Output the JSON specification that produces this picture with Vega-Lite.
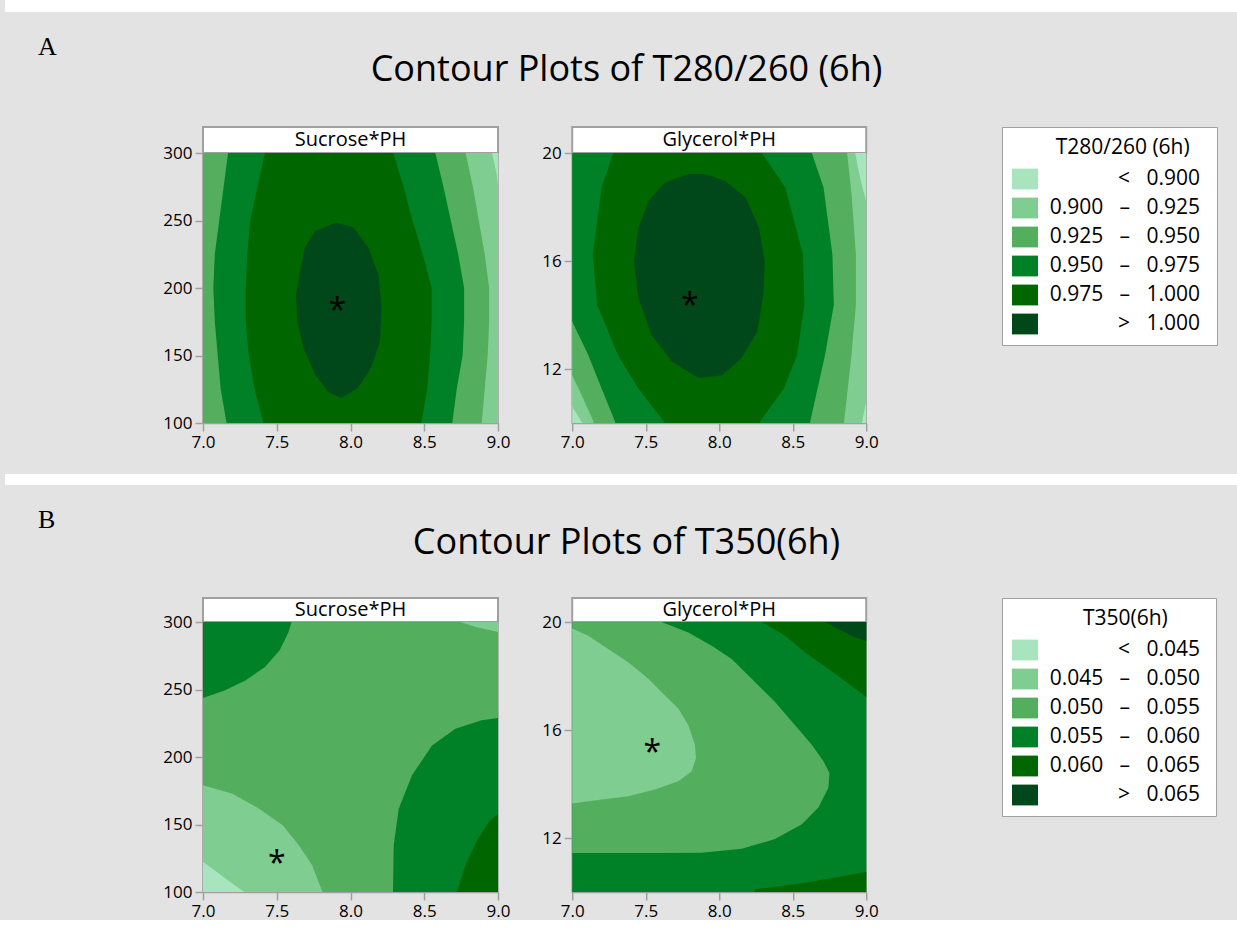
{
  "$schema": "https://vega.github.io/schema/vega-lite/v6.json",
  "background": "#e3e3e3",
  "padding": {"left": 5, "top": 0, "right": 0, "bottom": 0},
  "config": {
    "font": "Open Sans",
    "view": {"stroke": "#a0a0a0", "strokeWidth": 1.5},
    "axis": {"domainColor": "#a0a0a0", "domainWidth": 1.5, "tickColor": "#a0a0a0", "tickWidth": 1.5, "tickSize": 8, "labelFont": "Open Sans", "labelFontSize": 17, "labelColor": "black", "labelPadding": 3, "grid": false, "labelFlush": false, "labelOverlap": false},
    "title": {"color": "black", "fontWeight": "normal"},
    "legend": {"orient": "none", "legendX": 799, "legendY": 0, "direction": "vertical", "padding": 10, "strokeColor": "#a0a0a0", "fillColor": "white", "titleFont": "Open Sans", "titleFontSize": 21, "titleFontWeight": "normal", "titleColor": "black", "titleAnchor": "start", "titleAlign": "left", "titlePadding": 8, "labelFont": "Open Sans", "labelFontSize": 21, "labelColor": "black", "labelAlign": "right", "labelOffset": 162, "labelLimit": 300, "symbolType": "M-1,-0.8L1,-0.8L1,0.8L-1,0.8Z", "symbolSize": 676, "symbolStrokeWidth": 0, "symbolOpacity": 1, "rowPadding": 5.0, "titleLimit": 400}
  },
  "datasets": {
    "a1": [
      {"p":0,"k":"< 0.900","x":6.8,"y":80},{"p":0,"k":"< 0.900","x":9.2,"y":80},{"p":0,"k":"< 0.900","x":9.2,"y":320},{"p":0,"k":"< 0.900","x":6.8,"y":320},
      {"p":1,"k":"0.900 – 0.925","x":6.8,"y":320},{"p":1,"k":"0.900 – 0.925","x":8.93,"y":320},{"p":1,"k":"0.900 – 0.925","x":8.96,"y":300},{"p":1,"k":"0.900 – 0.925","x":8.99,"y":285},{"p":1,"k":"0.900 – 0.925","x":9.0,"y":277},{"p":1,"k":"0.900 – 0.925","x":9.05,"y":260},{"p":1,"k":"0.900 – 0.925","x":9.2,"y":250},{"p":1,"k":"0.900 – 0.925","x":9.2,"y":80},{"p":1,"k":"0.900 – 0.925","x":6.8,"y":80},
      {"p":2,"k":"0.925 – 0.950","x":6.8,"y":320},{"p":2,"k":"0.925 – 0.950","x":8.75,"y":320},{"p":2,"k":"0.925 – 0.950","x":8.78,"y":300},{"p":2,"k":"0.925 – 0.950","x":8.83,"y":275},{"p":2,"k":"0.925 – 0.950","x":8.87,"y":250},{"p":2,"k":"0.925 – 0.950","x":8.91,"y":225},{"p":2,"k":"0.925 – 0.950","x":8.94,"y":200},{"p":2,"k":"0.925 – 0.950","x":8.94,"y":175},{"p":2,"k":"0.925 – 0.950","x":8.93,"y":150},{"p":2,"k":"0.925 – 0.950","x":8.91,"y":125},{"p":2,"k":"0.925 – 0.950","x":8.89,"y":100},{"p":2,"k":"0.925 – 0.950","x":8.87,"y":80},{"p":2,"k":"0.925 – 0.950","x":6.8,"y":80},
      {"p":3,"k":"0.950 – 0.975","x":7.2,"y":320},{"p":3,"k":"0.950 – 0.975","x":7.17,"y":300},{"p":3,"k":"0.950 – 0.975","x":7.14,"y":275},{"p":3,"k":"0.950 – 0.975","x":7.11,"y":250},{"p":3,"k":"0.950 – 0.975","x":7.08,"y":225},{"p":3,"k":"0.950 – 0.975","x":7.07,"y":200},{"p":3,"k":"0.950 – 0.975","x":7.08,"y":175},{"p":3,"k":"0.950 – 0.975","x":7.10,"y":150},{"p":3,"k":"0.950 – 0.975","x":7.12,"y":125},{"p":3,"k":"0.950 – 0.975","x":7.16,"y":100},{"p":3,"k":"0.950 – 0.975","x":7.19,"y":80},{"p":3,"k":"0.950 – 0.975","x":8.66,"y":80},{"p":3,"k":"0.950 – 0.975","x":8.69,"y":100},{"p":3,"k":"0.950 – 0.975","x":8.72,"y":125},{"p":3,"k":"0.950 – 0.975","x":8.76,"y":150},{"p":3,"k":"0.950 – 0.975","x":8.77,"y":175},{"p":3,"k":"0.950 – 0.975","x":8.77,"y":200},{"p":3,"k":"0.950 – 0.975","x":8.73,"y":225},{"p":3,"k":"0.950 – 0.975","x":8.68,"y":250},{"p":3,"k":"0.950 – 0.975","x":8.63,"y":275},{"p":3,"k":"0.950 – 0.975","x":8.575,"y":300},{"p":3,"k":"0.950 – 0.975","x":8.54,"y":320},
      {"p":4,"k":"0.975 – 1.000","x":7.47,"y":320},{"p":4,"k":"0.975 – 1.000","x":7.42,"y":300},{"p":4,"k":"0.975 – 1.000","x":7.37,"y":275},{"p":4,"k":"0.975 – 1.000","x":7.32,"y":250},{"p":4,"k":"0.975 – 1.000","x":7.30,"y":225},{"p":4,"k":"0.975 – 1.000","x":7.29,"y":200},{"p":4,"k":"0.975 – 1.000","x":7.29,"y":175},{"p":4,"k":"0.975 – 1.000","x":7.31,"y":150},{"p":4,"k":"0.975 – 1.000","x":7.35,"y":125},{"p":4,"k":"0.975 – 1.000","x":7.41,"y":100},{"p":4,"k":"0.975 – 1.000","x":7.45,"y":80},{"p":4,"k":"0.975 – 1.000","x":8.45,"y":80},{"p":4,"k":"0.975 – 1.000","x":8.48,"y":100},{"p":4,"k":"0.975 – 1.000","x":8.52,"y":125},{"p":4,"k":"0.975 – 1.000","x":8.54,"y":150},{"p":4,"k":"0.975 – 1.000","x":8.55,"y":175},{"p":4,"k":"0.975 – 1.000","x":8.55,"y":200},{"p":4,"k":"0.975 – 1.000","x":8.49,"y":225},{"p":4,"k":"0.975 – 1.000","x":8.42,"y":250},{"p":4,"k":"0.975 – 1.000","x":8.36,"y":275},{"p":4,"k":"0.975 – 1.000","x":8.29,"y":300},{"p":4,"k":"0.975 – 1.000","x":8.23,"y":320},
      {"p":5,"k":"> 1.000","x":7.90,"y":248.5},{"p":5,"k":"> 1.000","x":7.76,"y":242},{"p":5,"k":"> 1.000","x":7.69,"y":230},{"p":5,"k":"> 1.000","x":7.66,"y":213},{"p":5,"k":"> 1.000","x":7.63,"y":195},{"p":5,"k":"> 1.000","x":7.64,"y":175},{"p":5,"k":"> 1.000","x":7.68,"y":156},{"p":5,"k":"> 1.000","x":7.76,"y":136},{"p":5,"k":"> 1.000","x":7.85,"y":123},{"p":5,"k":"> 1.000","x":7.94,"y":118.5},{"p":5,"k":"> 1.000","x":8.05,"y":126},{"p":5,"k":"> 1.000","x":8.14,"y":141},{"p":5,"k":"> 1.000","x":8.20,"y":161},{"p":5,"k":"> 1.000","x":8.21,"y":185},{"p":5,"k":"> 1.000","x":8.19,"y":210},{"p":5,"k":"> 1.000","x":8.12,"y":230},{"p":5,"k":"> 1.000","x":8.02,"y":245}
    ],
    "a2": [
      {"p":0,"k":"< 0.900","x":6.8,"y":9.5},{"p":0,"k":"< 0.900","x":9.2,"y":9.5},{"p":0,"k":"< 0.900","x":9.2,"y":20.5},{"p":0,"k":"< 0.900","x":6.8,"y":20.5},
      {"p":1,"k":"0.900 – 0.925","x":6.8,"y":20.5},{"p":1,"k":"0.900 – 0.925","x":8.91,"y":20.5},{"p":1,"k":"0.900 – 0.925","x":8.925,"y":20},{"p":1,"k":"0.900 – 0.925","x":8.95,"y":19.3},{"p":1,"k":"0.900 – 0.925","x":8.98,"y":18.6},{"p":1,"k":"0.900 – 0.925","x":9.0,"y":18.2},{"p":1,"k":"0.900 – 0.925","x":9.05,"y":17.5},{"p":1,"k":"0.900 – 0.925","x":9.05,"y":11.2},{"p":1,"k":"0.900 – 0.925","x":9.0,"y":10.8},{"p":1,"k":"0.900 – 0.925","x":8.97,"y":10.0},{"p":1,"k":"0.900 – 0.925","x":8.96,"y":9.5},{"p":1,"k":"0.900 – 0.925","x":7.1,"y":9.5},{"p":1,"k":"0.900 – 0.925","x":7.07,"y":10.0},{"p":1,"k":"0.900 – 0.925","x":7.0,"y":10.6},{"p":1,"k":"0.900 – 0.925","x":6.8,"y":11.2},
      {"p":2,"k":"0.925 – 0.950","x":6.8,"y":20.5},{"p":2,"k":"0.925 – 0.950","x":8.86,"y":20.5},{"p":2,"k":"0.925 – 0.950","x":8.87,"y":20},{"p":2,"k":"0.925 – 0.950","x":8.9,"y":18.5},{"p":2,"k":"0.925 – 0.950","x":8.93,"y":16.24},{"p":2,"k":"0.925 – 0.950","x":8.93,"y":14.38},{"p":2,"k":"0.925 – 0.950","x":8.9,"y":12.52},{"p":2,"k":"0.925 – 0.950","x":8.85,"y":10.07},{"p":2,"k":"0.925 – 0.950","x":8.84,"y":9.5},{"p":2,"k":"0.925 – 0.950","x":7.16,"y":9.5},{"p":2,"k":"0.925 – 0.950","x":7.143,"y":10.07},{"p":2,"k":"0.925 – 0.950","x":7.075,"y":10.91},{"p":2,"k":"0.925 – 0.950","x":7.0,"y":11.77},{"p":2,"k":"0.925 – 0.950","x":6.8,"y":12.3},
      {"p":3,"k":"0.950 – 0.975","x":6.8,"y":20.5},{"p":3,"k":"0.950 – 0.975","x":6.8,"y":14.2},{"p":3,"k":"0.950 – 0.975","x":7.0,"y":13.76},{"p":3,"k":"0.950 – 0.975","x":7.109,"y":12.52},{"p":3,"k":"0.950 – 0.975","x":7.2,"y":11.28},{"p":3,"k":"0.950 – 0.975","x":7.29,"y":10.07},{"p":3,"k":"0.950 – 0.975","x":7.32,"y":9.5},{"p":3,"k":"0.950 – 0.975","x":8.6,"y":9.5},{"p":3,"k":"0.950 – 0.975","x":8.62,"y":10.07},{"p":3,"k":"0.950 – 0.975","x":8.72,"y":12.52},{"p":3,"k":"0.950 – 0.975","x":8.78,"y":14.38},{"p":3,"k":"0.950 – 0.975","x":8.77,"y":16.24},{"p":3,"k":"0.950 – 0.975","x":8.71,"y":18.72},{"p":3,"k":"0.950 – 0.975","x":8.63,"y":20},{"p":3,"k":"0.950 – 0.975","x":8.61,"y":20.5},
      {"p":4,"k":"0.975 – 1.000","x":7.3,"y":20.5},{"p":4,"k":"0.975 – 1.000","x":7.28,"y":20},{"p":4,"k":"0.975 – 1.000","x":7.2,"y":18.72},{"p":4,"k":"0.975 – 1.000","x":7.14,"y":16.24},{"p":4,"k":"0.975 – 1.000","x":7.17,"y":14.38},{"p":4,"k":"0.975 – 1.000","x":7.31,"y":12.52},{"p":4,"k":"0.975 – 1.000","x":7.45,"y":11.28},{"p":4,"k":"0.975 – 1.000","x":7.62,"y":10.07},{"p":4,"k":"0.975 – 1.000","x":7.68,"y":9.5},{"p":4,"k":"0.975 – 1.000","x":8.25,"y":9.5},{"p":4,"k":"0.975 – 1.000","x":8.28,"y":10.07},{"p":4,"k":"0.975 – 1.000","x":8.44,"y":11.28},{"p":4,"k":"0.975 – 1.000","x":8.53,"y":12.52},{"p":4,"k":"0.975 – 1.000","x":8.58,"y":14.38},{"p":4,"k":"0.975 – 1.000","x":8.57,"y":16.24},{"p":4,"k":"0.975 – 1.000","x":8.45,"y":18.72},{"p":4,"k":"0.975 – 1.000","x":8.29,"y":20},{"p":4,"k":"0.975 – 1.000","x":8.26,"y":20.5},
      {"p":5,"k":"> 1.000","x":7.79,"y":19.22},{"p":5,"k":"> 1.000","x":7.63,"y":18.9},{"p":5,"k":"> 1.000","x":7.52,"y":18.23},{"p":5,"k":"> 1.000","x":7.45,"y":17.23},{"p":5,"k":"> 1.000","x":7.42,"y":15.99},{"p":5,"k":"> 1.000","x":7.45,"y":14.63},{"p":5,"k":"> 1.000","x":7.54,"y":13.26},{"p":5,"k":"> 1.000","x":7.68,"y":12.27},{"p":5,"k":"> 1.000","x":7.86,"y":11.67},{"p":5,"k":"> 1.000","x":8.02,"y":11.77},{"p":5,"k":"> 1.000","x":8.15,"y":12.39},{"p":5,"k":"> 1.000","x":8.26,"y":13.39},{"p":5,"k":"> 1.000","x":8.30,"y":14.75},{"p":5,"k":"> 1.000","x":8.31,"y":15.99},{"p":5,"k":"> 1.000","x":8.27,"y":17.23},{"p":5,"k":"> 1.000","x":8.18,"y":18.35},{"p":5,"k":"> 1.000","x":8.04,"y":18.97},{"p":5,"k":"> 1.000","x":7.90,"y":19.22}
    ],
    "b1": [
      {"p":0,"k":"0.050 – 0.055","x":6.8,"y":80},{"p":0,"k":"0.050 – 0.055","x":9.2,"y":80},{"p":0,"k":"0.050 – 0.055","x":9.2,"y":320},{"p":0,"k":"0.050 – 0.055","x":6.8,"y":320},
      {"p":1,"k":"0.055 – 0.060","x":6.8,"y":320},{"p":1,"k":"0.055 – 0.060","x":6.8,"y":241},{"p":1,"k":"0.055 – 0.060","x":7.0,"y":243.7},{"p":1,"k":"0.055 – 0.060","x":7.15,"y":249.4},{"p":1,"k":"0.055 – 0.060","x":7.29,"y":256.8},{"p":1,"k":"0.055 – 0.060","x":7.42,"y":266.7},{"p":1,"k":"0.055 – 0.060","x":7.52,"y":279.0},{"p":1,"k":"0.055 – 0.060","x":7.58,"y":292.6},{"p":1,"k":"0.055 – 0.060","x":7.60,"y":300},{"p":1,"k":"0.055 – 0.060","x":7.61,"y":320},
      {"p":2,"k":"0.045 – 0.050","x":8.72,"y":320},{"p":2,"k":"0.045 – 0.050","x":8.745,"y":300},{"p":2,"k":"0.045 – 0.050","x":8.85,"y":296.3},{"p":2,"k":"0.045 – 0.050","x":9.0,"y":292.6},{"p":2,"k":"0.045 – 0.050","x":9.2,"y":289},{"p":2,"k":"0.045 – 0.050","x":9.2,"y":320},
      {"p":3,"k":"0.045 – 0.050","x":6.8,"y":181},{"p":3,"k":"0.045 – 0.050","x":7.0,"y":179},{"p":3,"k":"0.045 – 0.050","x":7.2,"y":172.8},{"p":3,"k":"0.045 – 0.050","x":7.38,"y":161.7},{"p":3,"k":"0.045 – 0.050","x":7.54,"y":149.4},{"p":3,"k":"0.045 – 0.050","x":7.65,"y":134.6},{"p":3,"k":"0.045 – 0.050","x":7.74,"y":119.8},{"p":3,"k":"0.045 – 0.050","x":7.81,"y":100},{"p":3,"k":"0.045 – 0.050","x":7.83,"y":80},{"p":3,"k":"0.045 – 0.050","x":6.8,"y":80},
      {"p":4,"k":"< 0.045","x":6.8,"y":124},{"p":4,"k":"< 0.045","x":7.0,"y":122.2},{"p":4,"k":"< 0.045","x":7.08,"y":116},{"p":4,"k":"< 0.045","x":7.17,"y":108.6},{"p":4,"k":"< 0.045","x":7.28,"y":100},{"p":4,"k":"< 0.045","x":7.31,"y":80},{"p":4,"k":"< 0.045","x":6.8,"y":80},
      {"p":5,"k":"0.055 – 0.060","x":8.288,"y":80},{"p":5,"k":"0.055 – 0.060","x":8.288,"y":100},{"p":5,"k":"0.055 – 0.060","x":8.293,"y":134.6},{"p":5,"k":"0.055 – 0.060","x":8.327,"y":161.7},{"p":5,"k":"0.055 – 0.060","x":8.417,"y":186.4},{"p":5,"k":"0.055 – 0.060","x":8.553,"y":208.6},{"p":5,"k":"0.055 – 0.060","x":8.711,"y":221},{"p":5,"k":"0.055 – 0.060","x":8.89,"y":227.2},{"p":5,"k":"0.055 – 0.060","x":9.0,"y":228.9},{"p":5,"k":"0.055 – 0.060","x":9.2,"y":231},{"p":5,"k":"0.055 – 0.060","x":9.2,"y":80},
      {"p":6,"k":"0.060 – 0.065","x":8.70,"y":80},{"p":6,"k":"0.060 – 0.065","x":8.722,"y":100},{"p":6,"k":"0.060 – 0.065","x":8.779,"y":119.8},{"p":6,"k":"0.060 – 0.065","x":8.858,"y":138.3},{"p":6,"k":"0.060 – 0.065","x":8.937,"y":151.9},{"p":6,"k":"0.060 – 0.065","x":9.0,"y":158},{"p":6,"k":"0.060 – 0.065","x":9.2,"y":170},{"p":6,"k":"0.060 – 0.065","x":9.2,"y":80}
    ],
    "b2": [
      {"p":0,"k":"0.055 – 0.060","x":6.8,"y":9.5},{"p":0,"k":"0.055 – 0.060","x":9.2,"y":9.5},{"p":0,"k":"0.055 – 0.060","x":9.2,"y":20.5},{"p":0,"k":"0.055 – 0.060","x":6.8,"y":20.5},
      {"p":1,"k":"0.050 – 0.055","x":6.8,"y":20.5},{"p":1,"k":"0.050 – 0.055","x":7.59,"y":20.5},{"p":1,"k":"0.050 – 0.055","x":7.608,"y":20},{"p":1,"k":"0.050 – 0.055","x":7.79,"y":19.61},{"p":1,"k":"0.050 – 0.055","x":7.949,"y":19.12},{"p":1,"k":"0.050 – 0.055","x":8.085,"y":18.63},{"p":1,"k":"0.050 – 0.055","x":8.221,"y":17.9},{"p":1,"k":"0.050 – 0.055","x":8.38,"y":17.04},{"p":1,"k":"0.050 – 0.055","x":8.516,"y":16.18},{"p":1,"k":"0.050 – 0.055","x":8.63,"y":15.45},{"p":1,"k":"0.050 – 0.055","x":8.709,"y":14.84},{"p":1,"k":"0.050 – 0.055","x":8.75,"y":14.41},{"p":1,"k":"0.050 – 0.055","x":8.743,"y":13.86},{"p":1,"k":"0.050 – 0.055","x":8.675,"y":13.13},{"p":1,"k":"0.050 – 0.055","x":8.562,"y":12.51},{"p":1,"k":"0.050 – 0.055","x":8.38,"y":11.96},{"p":1,"k":"0.050 – 0.055","x":8.153,"y":11.6},{"p":1,"k":"0.050 – 0.055","x":7.881,"y":11.45},{"p":1,"k":"0.050 – 0.055","x":7.563,"y":11.44},{"p":1,"k":"0.050 – 0.055","x":6.8,"y":11.44},
      {"p":2,"k":"0.045 – 0.050","x":6.8,"y":19.8},{"p":2,"k":"0.045 – 0.050","x":7.0,"y":19.76},{"p":2,"k":"0.045 – 0.050","x":7.109,"y":19.49},{"p":2,"k":"0.045 – 0.050","x":7.245,"y":19.0},{"p":2,"k":"0.045 – 0.050","x":7.381,"y":18.51},{"p":2,"k":"0.045 – 0.050","x":7.518,"y":17.9},{"p":2,"k":"0.045 – 0.050","x":7.631,"y":17.28},{"p":2,"k":"0.045 – 0.050","x":7.722,"y":16.8},{"p":2,"k":"0.045 – 0.050","x":7.79,"y":16.18},{"p":2,"k":"0.045 – 0.050","x":7.835,"y":15.45},{"p":2,"k":"0.045 – 0.050","x":7.842,"y":14.96},{"p":2,"k":"0.045 – 0.050","x":7.813,"y":14.47},{"p":2,"k":"0.045 – 0.050","x":7.722,"y":14.1},{"p":2,"k":"0.045 – 0.050","x":7.563,"y":13.8},{"p":2,"k":"0.045 – 0.050","x":7.381,"y":13.55},{"p":2,"k":"0.045 – 0.050","x":7.2,"y":13.43},{"p":2,"k":"0.045 – 0.050","x":7.0,"y":13.28},{"p":2,"k":"0.045 – 0.050","x":6.8,"y":13.26},
      {"p":3,"k":"0.060 – 0.065","x":8.25,"y":20.5},{"p":3,"k":"0.060 – 0.065","x":8.289,"y":20},{"p":3,"k":"0.060 – 0.065","x":8.448,"y":19.49},{"p":3,"k":"0.060 – 0.065","x":8.584,"y":18.87},{"p":3,"k":"0.060 – 0.065","x":8.743,"y":18.26},{"p":3,"k":"0.060 – 0.065","x":8.88,"y":17.71},{"p":3,"k":"0.060 – 0.065","x":9.0,"y":17.22},{"p":3,"k":"0.060 – 0.065","x":9.2,"y":17.0},{"p":3,"k":"0.060 – 0.065","x":9.2,"y":20.5},
      {"p":4,"k":"> 0.065","x":8.70,"y":20.5},{"p":4,"k":"> 0.065","x":8.721,"y":20},{"p":4,"k":"> 0.065","x":8.834,"y":19.67},{"p":4,"k":"> 0.065","x":8.925,"y":19.43},{"p":4,"k":"> 0.065","x":9.0,"y":19.3},{"p":4,"k":"> 0.065","x":9.2,"y":19.1},{"p":4,"k":"> 0.065","x":9.2,"y":20.5},
      {"p":5,"k":"0.060 – 0.065","x":8.2,"y":9.5},{"p":5,"k":"0.060 – 0.065","x":8.244,"y":10.1},{"p":5,"k":"0.060 – 0.065","x":8.585,"y":10.34},{"p":5,"k":"0.060 – 0.065","x":9.0,"y":10.74},{"p":5,"k":"0.060 – 0.065","x":9.2,"y":10.9},{"p":5,"k":"0.060 – 0.065","x":9.2,"y":9.5}
    ]
  },
  "resolve": {"scale": {"fill": "independent"}},
  "columns": 1,
  "spacing": 22,
  "concat": [
    {"width": 1232, "height": 12, "view": {"fill": "white", "stroke": null}, "data": {"values": [{"t": ""}]}, "mark": "text", "encoding": {"text": {"field": "t"}}},
    {
      "resolve": {"scale": {"fill": "independent"}},
      "spacing": 18,
      "hconcat": [
        {"width": 138.3, "height": 10, "view": {"stroke": null}, "title": {"text": "A", "anchor": "start", "frame": "group", "dx": 33, "offset": 66, "font": "Liberation Serif", "fontSize": 26, "fontWeight": "normal", "color": "black"}, "data": {"values": [{"t": ""}]}, "mark": "text", "encoding": {"text": {"field": "t"}}},
        {
          "title": {"text": "Contour Plots of T280/260 (6h)", "anchor": "middle", "frame": "group", "dx": 423.5, "font": "Open Sans", "fontSize": 36, "fontWeight": "normal", "color": "black", "offset": 37},
          "spacing": 29.2,
          "hconcat": [
            {
              "spacing": 0, "bounds": "flush",
              "vconcat": [
                {"width": 295, "height": 26, "view": {"fill": "white", "stroke": "#a0a0a0", "strokeWidth": 2}, "data": {"values": [{"t": "Sucrose*PH"}]}, "mark": {"type": "text", "fontSize": 20, "color": "black", "baseline": "middle", "align": "center"}, "encoding": {"text": {"field": "t"}}},
                {
                  "width": 295, "height": 270,
                  "layer": [
                    {
                      "data": {"name": "a1"},
                      "mark": {"type": "line", "clip": true, "strokeWidth": 0},
                      "encoding": {
                        "x": {"field": "x", "type": "quantitative", "scale": {"domain": [7, 9], "nice": false, "zero": false}, "axis": {"values": [7, 7.5, 8, 8.5, 9], "format": ".1f", "title": null}},
                        "y": {"field": "y", "type": "quantitative", "scale": {"domain": [100, 300], "nice": false, "zero": false}, "axis": {"values": [100, 150, 200, 250, 300], "title": null}},
                        "detail": {"field": "p", "type": "nominal"},
                        "order": {"value": null},
                        "fill": {"field": "k", "type": "nominal",
                          "scale": {"domain": ["< 0.900", "0.900 – 0.925", "0.925 – 0.950", "0.950 – 0.975", "0.975 – 1.000", "> 1.000"], "range": ["#a8e5bf", "#80cd91", "#53ae5e", "#008128", "#006600", "#00481a"]},
                          "legend": {"title": "\u200b\u00a0\u00a0\u00a0\u00a0\u00a0\u00a0\u00a0\u00a0T280/260 (6h)\u00a0\u00a0\u00a0\u200b", "labelExpr": "replace(replace(datum.label, ' – ', '\u00a0\u00a0\u00a0–\u00a0\u00a0\u00a0'), ' ', '\u00a0\u00a0\u00a0')"}}
                      }
                    },
                    {
                      "data": {"values": [{"x": 7.91, "y": 189}]},
                      "mark": {"type": "text", "text": "*", "fontSize": 32, "dy": 8, "color": "black"},
                      "encoding": {"x": {"field": "x", "type": "quantitative"}, "y": {"field": "y", "type": "quantitative"}}
                    }
                  ]
                }
              ]
            },
            {
              "spacing": 0, "bounds": "flush",
              "vconcat": [
                {"width": 294, "height": 26, "view": {"fill": "white", "stroke": "#a0a0a0", "strokeWidth": 2}, "data": {"values": [{"t": "Glycerol*PH"}]}, "mark": {"type": "text", "fontSize": 20, "color": "black", "baseline": "middle", "align": "center"}, "encoding": {"text": {"field": "t"}}},
                {
                  "width": 294, "height": 270,
                  "layer": [
                    {
                      "data": {"name": "a2"},
                      "mark": {"type": "line", "clip": true, "strokeWidth": 0},
                      "encoding": {
                        "x": {"field": "x", "type": "quantitative", "scale": {"domain": [7, 9], "nice": false, "zero": false}, "axis": {"values": [7, 7.5, 8, 8.5, 9], "format": ".1f", "title": null}},
                        "y": {"field": "y", "type": "quantitative", "scale": {"domain": [10, 20], "nice": false, "zero": false}, "axis": {"values": [12, 16, 20], "title": null}},
                        "detail": {"field": "p", "type": "nominal"},
                        "order": {"value": null},
                        "fill": {"field": "k", "type": "nominal",
                          "scale": {"domain": ["< 0.900", "0.900 – 0.925", "0.925 – 0.950", "0.950 – 0.975", "0.975 – 1.000", "> 1.000"], "range": ["#a8e5bf", "#80cd91", "#53ae5e", "#008128", "#006600", "#00481a"]},
                          "legend": {"title": "\u200b\u00a0\u00a0\u00a0\u00a0\u00a0\u00a0\u00a0\u00a0T280/260 (6h)\u00a0\u00a0\u00a0\u200b", "labelExpr": "replace(replace(datum.label, ' – ', '\u00a0\u00a0\u00a0–\u00a0\u00a0\u00a0'), ' ', '\u00a0\u00a0\u00a0')"}}
                      }
                    },
                    {
                      "data": {"values": [{"x": 7.8, "y": 14.63}]},
                      "mark": {"type": "text", "text": "*", "fontSize": 32, "dy": 8, "color": "black"},
                      "encoding": {"x": {"field": "x", "type": "quantitative"}, "y": {"field": "y", "type": "quantitative"}}
                    }
                  ]
                }
              ]
            }
          ]
        }
      ]
    },
    {"width": 1232, "height": 11, "view": {"fill": "white", "stroke": null}, "data": {"values": [{"t": ""}]}, "mark": "text", "encoding": {"text": {"field": "t"}}},
    {
      "resolve": {"scale": {"fill": "independent"}},
      "spacing": 18,
      "hconcat": [
        {"width": 138.3, "height": 10, "view": {"stroke": null}, "title": {"text": "B", "anchor": "start", "frame": "group", "dx": 33, "offset": 64, "font": "Liberation Serif", "fontSize": 26, "fontWeight": "normal", "color": "black"}, "data": {"values": [{"t": ""}]}, "mark": "text", "encoding": {"text": {"field": "t"}}},
        {
          "title": {"text": "Contour Plots of T350(6h)", "anchor": "middle", "frame": "group", "dx": 423.5, "font": "Open Sans", "fontSize": 36, "fontWeight": "normal", "color": "black", "offset": 35},
          "spacing": 29.2,
          "hconcat": [
            {
              "spacing": 0, "bounds": "flush",
              "vconcat": [
                {"width": 295, "height": 24, "view": {"fill": "white", "stroke": "#a0a0a0", "strokeWidth": 2}, "data": {"values": [{"t": "Sucrose*PH"}]}, "mark": {"type": "text", "fontSize": 20, "color": "black", "baseline": "middle", "align": "center"}, "encoding": {"text": {"field": "t"}}},
                {
                  "width": 295, "height": 270,
                  "layer": [
                    {
                      "data": {"name": "b1"},
                      "mark": {"type": "line", "clip": true, "strokeWidth": 0},
                      "encoding": {
                        "x": {"field": "x", "type": "quantitative", "scale": {"domain": [7, 9], "nice": false, "zero": false}, "axis": {"values": [7, 7.5, 8, 8.5, 9], "format": ".1f", "title": null}},
                        "y": {"field": "y", "type": "quantitative", "scale": {"domain": [100, 300], "nice": false, "zero": false}, "axis": {"values": [100, 150, 200, 250, 300], "title": null}},
                        "detail": {"field": "p", "type": "nominal"},
                        "order": {"value": null},
                        "fill": {"field": "k", "type": "nominal",
                          "scale": {"domain": ["< 0.045", "0.045 – 0.050", "0.050 – 0.055", "0.055 – 0.060", "0.060 – 0.065", "> 0.065"], "range": ["#a8e5bf", "#80cd91", "#53ae5e", "#008128", "#006600", "#00481a"]},
                          "legend": {"title": "\u200b\u00a0\u00a0\u00a0\u00a0\u00a0\u00a0\u00a0\u00a0\u00a0\u00a0\u00a0\u00a0\u00a0T350(6h)\u00a0\u00a0\u00a0\u00a0\u00a0\u00a0\u00a0\u200b", "labelExpr": "replace(replace(datum.label, ' – ', '\u00a0\u00a0\u00a0–\u00a0\u00a0\u00a0'), ' ', '\u00a0\u00a0\u00a0')"}}
                      }
                    },
                    {
                      "data": {"values": [{"x": 7.5, "y": 127}]},
                      "mark": {"type": "text", "text": "*", "fontSize": 32, "dy": 8, "color": "black"},
                      "encoding": {"x": {"field": "x", "type": "quantitative"}, "y": {"field": "y", "type": "quantitative"}}
                    }
                  ]
                }
              ]
            },
            {
              "spacing": 0, "bounds": "flush",
              "vconcat": [
                {"width": 294, "height": 24, "view": {"fill": "white", "stroke": "#a0a0a0", "strokeWidth": 2}, "data": {"values": [{"t": "Glycerol*PH"}]}, "mark": {"type": "text", "fontSize": 20, "color": "black", "baseline": "middle", "align": "center"}, "encoding": {"text": {"field": "t"}}},
                {
                  "width": 294, "height": 270,
                  "layer": [
                    {
                      "data": {"name": "b2"},
                      "mark": {"type": "line", "clip": true, "strokeWidth": 0},
                      "encoding": {
                        "x": {"field": "x", "type": "quantitative", "scale": {"domain": [7, 9], "nice": false, "zero": false}, "axis": {"values": [7, 7.5, 8, 8.5, 9], "format": ".1f", "title": null}},
                        "y": {"field": "y", "type": "quantitative", "scale": {"domain": [10, 20], "nice": false, "zero": false}, "axis": {"values": [12, 16, 20], "title": null}},
                        "detail": {"field": "p", "type": "nominal"},
                        "order": {"value": null},
                        "fill": {"field": "k", "type": "nominal",
                          "scale": {"domain": ["< 0.045", "0.045 – 0.050", "0.050 – 0.055", "0.055 – 0.060", "0.060 – 0.065", "> 0.065"], "range": ["#a8e5bf", "#80cd91", "#53ae5e", "#008128", "#006600", "#00481a"]},
                          "legend": {"title": "\u200b\u00a0\u00a0\u00a0\u00a0\u00a0\u00a0\u00a0\u00a0\u00a0\u00a0\u00a0\u00a0\u00a0T350(6h)\u00a0\u00a0\u00a0\u00a0\u00a0\u00a0\u00a0\u200b", "labelExpr": "replace(replace(datum.label, ' – ', '\u00a0\u00a0\u00a0–\u00a0\u00a0\u00a0'), ' ', '\u00a0\u00a0\u00a0')"}}
                      }
                    },
                    {
                      "data": {"values": [{"x": 7.545, "y": 15.43}]},
                      "mark": {"type": "text", "text": "*", "fontSize": 32, "dy": 8, "color": "black"},
                      "encoding": {"x": {"field": "x", "type": "quantitative"}, "y": {"field": "y", "type": "quantitative"}}
                    }
                  ]
                }
              ]
            }
          ]
        }
      ]
    }
  ]
}
